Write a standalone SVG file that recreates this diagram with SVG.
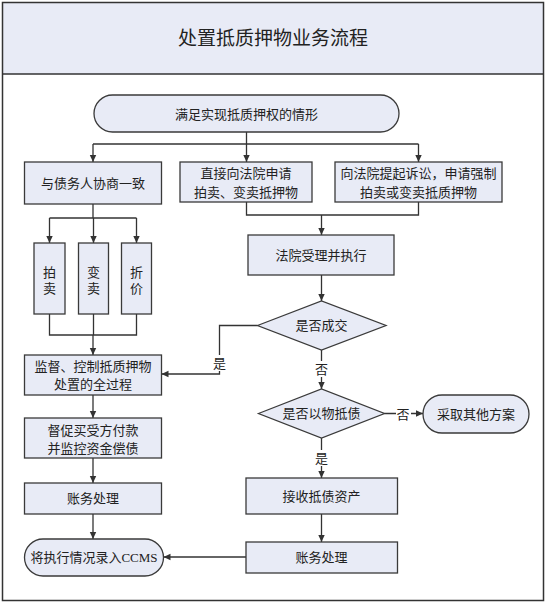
<svg xmlns="http://www.w3.org/2000/svg" width="547" height="604" viewBox="0 0 547 604">
<defs>
<marker id="ah" markerUnits="userSpaceOnUse" markerWidth="8" markerHeight="8" refX="7" refY="4" orient="auto">
<path d="M0,0.8 L7,4 L0,7.2 Z" fill="#333"/>
</marker>
<style>
.box{fill:#e8ebf6;stroke:#3a3a3a;stroke-width:1.3}
.t{font-family:"Liberation Serif","Noto Sans CJK SC",serif;font-size:13px;fill:#222;text-anchor:middle;dominant-baseline:central}
.ln{fill:none;stroke:#333;stroke-width:1.3}
.ar{fill:none;stroke:#333;stroke-width:1.3;marker-end:url(#ah)}
.lbl{font-family:"Liberation Serif","Noto Sans CJK SC",serif;font-size:13px;fill:#222;text-anchor:middle;dominant-baseline:central}
</style>
</defs>
<rect x="0" y="0" width="547" height="604" fill="#fff"/>
<g id="frame">
<rect x="2.5" y="2.5" width="541" height="71.5" fill="#e8ebf6"/>
<rect x="2.5" y="2.5" width="541" height="598" fill="none" stroke="#333" stroke-width="1.5"/>
<line x1="2.5" y1="74" x2="543.5" y2="74" stroke="#333" stroke-width="1.3"/>
<text x="273" y="38" class="t" style="font-size:19px">处置抵质押物业务流程</text>
</g>
<g id="connectors">
<polyline class="ln" points="246.5,132 246.5,144"/>
<polyline class="ln" points="93,144 418.5,144"/>
<polyline class="ar" points="93,144 93,162"/>
<polyline class="ar" points="246.5,144 246.5,162"/>
<polyline class="ar" points="418.5,144 418.5,162"/>
<polyline class="ln" points="93,204 93,218"/>
<polyline class="ln" points="49.5,218 136.5,218"/>
<polyline class="ar" points="49.5,218 49.5,243"/>
<polyline class="ar" points="93.5,218 93.5,243"/>
<polyline class="ar" points="136.5,218 136.5,243"/>
<polyline class="ln" points="49.5,314 49.5,335 136.5,335 136.5,314"/>
<polyline class="ln" points="93.5,314 93.5,335"/>
<polyline class="ar" points="93,335 93,355"/>
<polyline class="ln" points="246.5,202 246.5,215 418.5,215 418.5,202"/>
<polyline class="ar" points="321.5,215 321.5,235"/>
<polyline class="ar" points="321.5,275 321.5,301"/>
<polyline class="ar" points="257.5,325.5 219.5,325.5 219.5,374 161.5,374"/>
<polyline class="ar" points="321.5,350 321.5,389"/>
<polyline class="ar" points="384.5,413.5 423,413.5"/>
<polyline class="ar" points="321.5,438 321.5,478"/>
<polyline class="ar" points="321.5,514 321.5,542"/>
<polyline class="ar" points="246,557 163.5,557"/>
<polyline class="ar" points="93,395 93,418"/>
<polyline class="ar" points="93,458 93,483"/>
<polyline class="ar" points="93,514 93,539"/>
<rect x="212" y="355" width="15" height="16" fill="#fff"/>
<text class="lbl" x="219.5" y="363">是</text>
<rect x="314" y="361" width="15" height="16" fill="#fff"/>
<text class="lbl" x="321.5" y="369">否</text>
<rect x="396" y="406" width="15" height="16" fill="#fff"/>
<text class="lbl" x="403" y="414">否</text>
<rect x="314" y="450" width="15" height="16" fill="#fff"/>
<text class="lbl" x="321.5" y="458">是</text>
</g>
<g id="start">
<rect class="box" x="94" y="95" width="305" height="37" rx="18.5"/>
<text class="t" x="246.5" y="114">满足实现抵质押权的情形</text>
</g>
<g id="negotiate">
<rect class="box" x="24.5" y="162" width="137" height="42"/>
<text class="t" x="93" y="183">与债务人协商一致</text>
</g>
<g id="apply">
<rect class="box" x="180" y="162" width="132" height="40"/>
<text class="t" x="246" y="173">直接向法院申请</text>
<text class="t" x="246" y="192">拍卖、变卖抵押物</text>
</g>
<g id="sue">
<rect class="box" x="335" y="162" width="167" height="40"/>
<text class="t" x="418.5" y="173">向法院提起诉讼，申请强制</text>
<text class="t" x="418.5" y="192">拍卖或变卖抵质押物</text>
</g>
<g id="auction">
<rect class="box" x="34" y="243" width="31" height="71"/>
<text class="t" x="49.5" y="272">拍</text>
<text class="t" x="49.5" y="288">卖</text>
</g>
<g id="sell">
<rect class="box" x="78.5" y="243" width="30" height="71"/>
<text class="t" x="93.5" y="272">变</text>
<text class="t" x="93.5" y="288">卖</text>
</g>
<g id="discount">
<rect class="box" x="121.5" y="243" width="30" height="71"/>
<text class="t" x="136.5" y="272">折</text>
<text class="t" x="136.5" y="288">价</text>
</g>
<g id="court">
<rect class="box" x="248" y="235" width="146" height="40"/>
<text class="t" x="321" y="255">法院受理并执行</text>
</g>
<g id="deal">
<polygon class="box" points="257.5,325.5 321.5,301 386,325.5 321.5,350"/>
<text class="t" x="321.5" y="325.5">是否成交</text>
</g>
<g id="supervise">
<rect class="box" x="24.5" y="355" width="137" height="40"/>
<text class="t" x="93" y="366">监督、控制抵质押物</text>
<text class="t" x="93" y="384">处置的全过程</text>
</g>
<g id="offset">
<polygon class="box" points="258.5,413.5 321.5,389 384.5,413.5 321.5,438"/>
<text class="t" x="321.5" y="413.5">是否以物抵债</text>
</g>
<g id="other">
<rect class="box" x="423" y="395" width="106" height="38" rx="19"/>
<text class="t" x="476" y="414">采取其他方案</text>
</g>
<g id="urge">
<rect class="box" x="24.5" y="418" width="137" height="40"/>
<text class="t" x="93" y="430">督促买受方付款</text>
<text class="t" x="93" y="448">并监控资金偿债</text>
</g>
<g id="account1">
<rect class="box" x="24.5" y="483" width="137" height="31"/>
<text class="t" x="93" y="498.5">账务处理</text>
</g>
<g id="receive">
<rect class="box" x="246" y="478" width="151.5" height="36"/>
<text class="t" x="321.5" y="496">接收抵债资产</text>
</g>
<g id="account2">
<rect class="box" x="246" y="542" width="151.5" height="31"/>
<text class="t" x="321.5" y="557.5">账务处理</text>
</g>
<g id="ccms">
<rect class="box" x="24.5" y="539" width="139" height="37" rx="18.5"/>
<text class="t" x="94" y="557.5">将执行情况录入CCMS</text>
</g>
</svg>
